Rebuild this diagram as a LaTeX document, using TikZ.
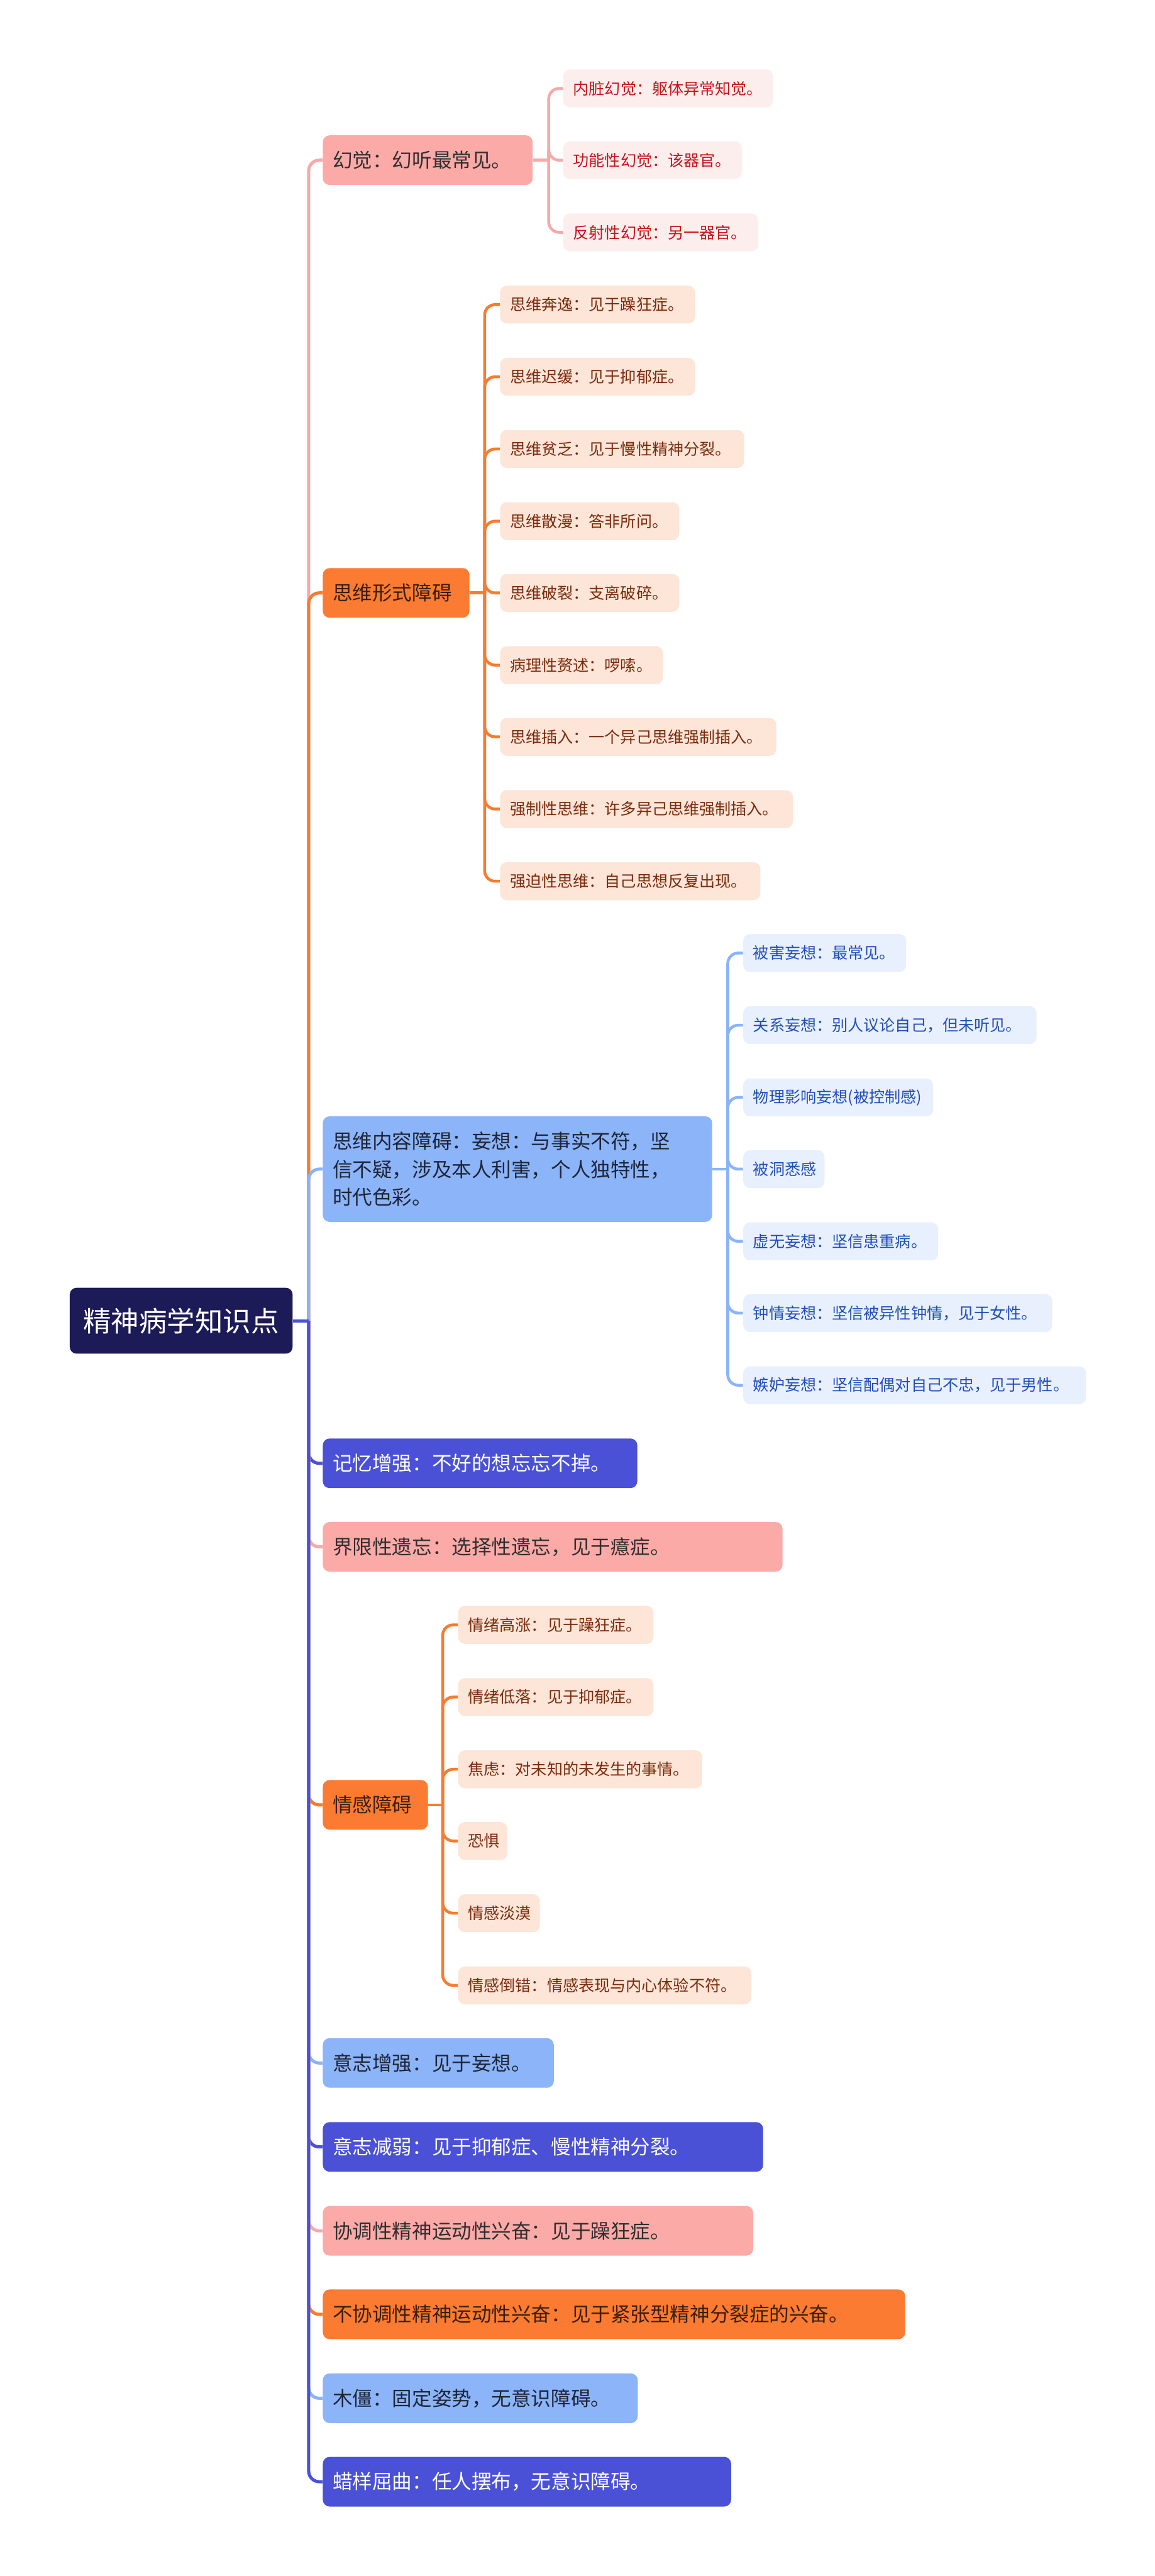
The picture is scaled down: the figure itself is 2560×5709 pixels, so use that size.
\documentclass[tikz,border=0pt]{standalone}
\usepackage{fontspec}
\newfontfamily\cjk{Noto Sans CJK SC}
\newdimen\pxu \pxu=0.3pt
\newcommand{\bxt}[2]{\makebox[\dimexpr#1\pxu-44\pxu\relax][l]{#2}}
\definecolor{rootc}{HTML}{1C1A57}
\definecolor{indigoc}{HTML}{4A51D6}
\definecolor{lbluec}{HTML}{8CB4F9}
\definecolor{pinkc}{HTML}{FCAAA8}
\definecolor{orangec}{HTML}{FA7B31}
\definecolor{pinkl}{HTML}{FDEEEE}
\definecolor{pinkt}{HTML}{C4161C}
\definecolor{orangel}{HTML}{FDE5D8}
\definecolor{oranget}{HTML}{7A2B0C}
\definecolor{bluel}{HTML}{E8F0FE}
\definecolor{bluet}{HTML}{1F4DB5}
\definecolor{darkt}{HTML}{2F2F2F}
\definecolor{orgdark}{HTML}{3A1E0C}
\definecolor{bluedark}{HTML}{1E2537}
\definecolor{pinkline}{HTML}{F7A9A8}
\definecolor{orangeline}{HTML}{F87B30}
\definecolor{blueline}{HTML}{8AB4F8}
\begin{document}
\begin{tikzpicture}[x=0.3pt,y=-0.3pt,
  base/.style={anchor=west, rounded corners=4.5pt, inner xsep=6.6pt, inner ysep=0pt},
  l1/.style={base, font=\cjk\fontsize{13.2}{15}\selectfont, minimum height=33pt},
  l2/.style={base, font=\cjk\fontsize{10.5}{12}\selectfont, minimum height=25.2pt},
  l1pink/.style={l1, fill=pinkc, text=darkt},
  l1orange/.style={l1, fill=orangec, text=orgdark},
  l1blue/.style={l1, fill=lbluec, text=bluedark},
  l1indigo/.style={l1, fill=indigoc, text=white},
  l2pink/.style={l2, fill=pinkl, text=pinkt},
  l2orange/.style={l2, fill=orangel, text=oranget},
  l2blue/.style={l2, fill=bluel, text=bluet},
  rootbox/.style={anchor=west, rounded corners=4.5pt, fill=rootc, text=white,
    minimum width=148.2pt, minimum height=43.8pt, inner sep=0pt,
    font=\cjk\fontsize{18.6}{20}\selectfont},
  conn/.style={line width=2.1pt, rounded corners=7pt},
  sconn/.style={line width=1.9pt, rounded corners=7pt}
]
\fill[white] (0,0) rectangle (2560,5709);
\useasboundingbox (0,0) rectangle (2560,5709);

% root
\node[rootbox] (root) at (154,2927) {精神病学知识点};

% level 1
\node[l1pink] (A) at (715,355) {\bxt{465}{幻觉：幻听最常见。}};
\node[l1orange] (B) at (715,1314) {\bxt{325}{思维形式障碍}};
\node[l1blue, minimum height=70.2pt, align=left, font=\cjk\fontsize{13.2}{18.6}\selectfont] (C) at (715,2591)
  {\makebox[\dimexpr 819\pxu\relax][l]{思维内容障碍：妄想：与事实不符，坚}\\信不疑，涉及本人利害，个人独特性，\\时代色彩。};
\node[l1indigo] (D) at (715,3243) {\bxt{697}{记忆增强：不好的想忘忘不掉。}};
\node[l1pink] (E) at (715,3428) {\bxt{1019}{界限性遗忘：选择性遗忘，见于癔症。}};
\node[l1orange] (F) at (715,4000) {\bxt{233}{情感障碍}};
\node[l1blue] (G) at (715,4572) {\bxt{512}{意志增强：见于妄想。}};
\node[l1indigo] (H) at (715,4758) {\bxt{976}{意志减弱：见于抑郁症、慢性精神分裂。}};
\node[l1pink] (I) at (715,4944) {\bxt{954}{协调性精神运动性兴奋：见于躁狂症。}};
\node[l1orange] (J) at (715,5129) {\bxt{1291}{不协调性精神运动性兴奋：见于紧张型精神分裂症的兴奋。}};
\node[l1blue] (K) at (715,5315) {\bxt{698}{木僵：固定姿势，无意识障碍。}};
\node[l1indigo] (L) at (715,5500) {\bxt{905}{蜡样屈曲：任人摆布，无意识障碍。}};

% level 2: hallucination
\node[l2pink] (a1) at (1248,196) {\bxt{465}{内脏幻觉：躯体异常知觉。}};
\node[l2pink] (a2) at (1248,355) {\bxt{396}{功能性幻觉：该器官。}};
\node[l2pink] (a3) at (1248,515) {\bxt{432}{反射性幻觉：另一器官。}};

% level 2: thought form
\node[l2orange] (b1) at (1108,675) {\bxt{432}{思维奔逸：见于躁狂症。}};
\node[l2orange] (b2) at (1108,835) {\bxt{432}{思维迟缓：见于抑郁症。}};
\node[l2orange] (b3) at (1108,995) {\bxt{541}{思维贫乏：见于慢性精神分裂。}};
\node[l2orange] (b4) at (1108,1155) {\bxt{397}{思维散漫：答非所问。}};
\node[l2orange] (b5) at (1108,1314) {\bxt{397}{思维破裂：支离破碎。}};
\node[l2orange] (b6) at (1108,1474) {\bxt{361}{病理性赘述：啰嗦。}};
\node[l2orange] (b7) at (1108,1633) {\bxt{612}{思维插入：一个异己思维强制插入。}};
\node[l2orange] (b8) at (1108,1793) {\bxt{649}{强制性思维：许多异己思维强制插入。}};
\node[l2orange] (b9) at (1108,1953) {\bxt{577}{强迫性思维：自己思想反复出现。}};

% level 2: thought content
\node[l2blue] (c1) at (1647,2112) {\bxt{361}{被害妄想：最常见。}};
\node[l2blue] (c2) at (1647,2272) {\bxt{650}{关系妄想：别人议论自己，但未听见。}};
\node[l2blue] (c3) at (1647,2432) {\bxt{421}{物理影响妄想(被控制感)}};
\node[l2blue] (c4) at (1647,2591) {\bxt{180}{被洞悉感}};
\node[l2blue] (c5) at (1647,2751) {\bxt{432}{虚无妄想：坚信患重病。}};
\node[l2blue] (c6) at (1647,2910) {\bxt{685}{钟情妄想：坚信被异性钟情，见于女性。}};
\node[l2blue] (c7) at (1647,3070) {\bxt{760}{嫉妒妄想：坚信配偶对自己不忠，见于男性。}};

% level 2: emotion
\node[l2orange] (f1) at (1015,3601) {\bxt{433}{情绪高涨：见于躁狂症。}};
\node[l2orange] (f2) at (1015,3761) {\bxt{433}{情绪低落：见于抑郁症。}};
\node[l2orange] (f3) at (1015,3921) {\bxt{541}{焦虑：对未知的未发生的事情。}};
\node[l2orange] (f4) at (1015,4080) {\bxt{109}{恐惧}};
\node[l2orange] (f5) at (1015,4240) {\bxt{181}{情感淡漠}};
\node[l2orange] (f6) at (1015,4400) {\bxt{650}{情感倒错：情感表现与内心体验不符。}};

% junction points
\path (root.east) ++(35,0) coordinate (rj);
\path (A.east) ++(35,0) coordinate (Aj);
\path (B.east) ++(33,0) coordinate (Bj);
\path (C.east) ++(34,0) coordinate (Cj);
\path (F.east) ++(32,0) coordinate (Fj);

% main connectors (above root: far first; below root: near first)
\draw[conn, pinkline] (rj) |- (A.west);
\draw[conn, orangeline] (rj) |- (B.west);
\draw[conn, blueline] (rj) |- (C.west);
\draw[conn, indigoc] (rj) |- (D.west);
\draw[conn, pinkline] (rj) |- (E.west);
\draw[conn, orangeline] (rj) |- (F.west);
\draw[conn, blueline] (rj) |- (G.west);
\draw[conn, indigoc] (rj) |- (H.west);
\draw[conn, pinkline] (rj) |- (I.west);
\draw[conn, orangeline] (rj) |- (J.west);
\draw[conn, blueline] (rj) |- (K.west);
\draw[conn, indigoc] (rj) |- (L.west);
\draw[conn, indigoc] (root.east) -- (rj);

% sub connectors
\draw[sconn, pinkline] (A.east) -- (Aj);
\foreach \n in {a1,a2,a3}
  \draw[sconn, pinkline] (Aj) |- (\n.west);
\draw[sconn, orangeline] (B.east) -- (Bj);
\foreach \n in {b1,b2,b3,b4,b5,b6,b7,b8,b9}
  \draw[sconn, orangeline] (Bj) |- (\n.west);
\draw[sconn, blueline] (C.east) -- (Cj);
\foreach \n in {c1,c2,c3,c4,c5,c6,c7}
  \draw[sconn, blueline] (Cj) |- (\n.west);
\draw[sconn, orangeline] (F.east) -- (Fj);
\foreach \n in {f1,f2,f3,f4,f5,f6}
  \draw[sconn, orangeline] (Fj) |- (\n.west);
\end{tikzpicture}
\end{document}
